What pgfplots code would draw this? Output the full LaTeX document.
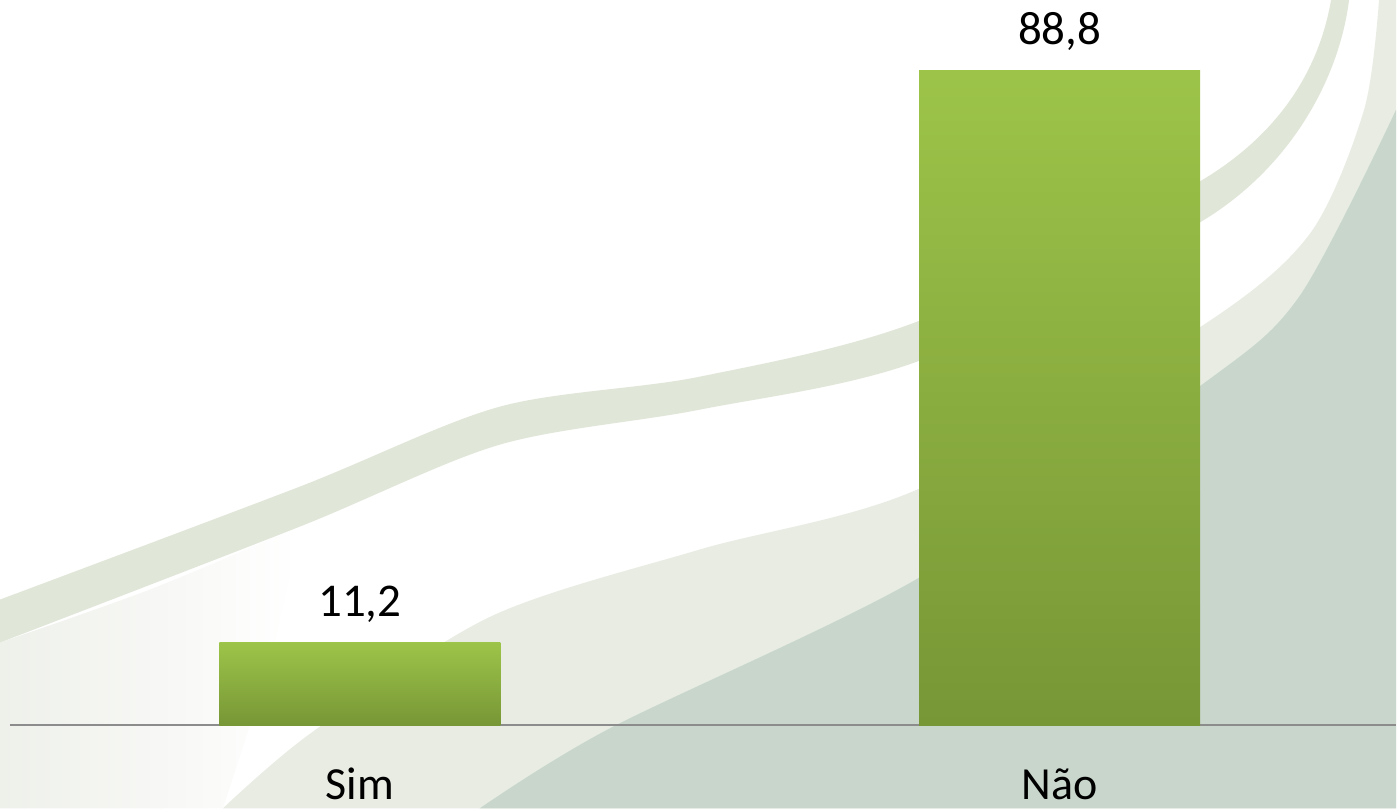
\documentclass[border=0pt]{standalone}
\usepackage{pgfplots}
\pgfplotsset{compat=1.18}
\usepackage{fontspec}
\setmainfont{Carlito}
\definecolor{bgdark}{HTML}{C9D6CC}
\definecolor{bgband}{HTML}{E8ECE3}
\definecolor{bgline}{HTML}{E0E6D8}
\definecolor{bgsoft}{HTML}{EEF0EA}
\definecolor{bartop}{HTML}{9DC449}
\definecolor{barbot}{HTML}{779636}
\definecolor{axisgray}{HTML}{8C8C8C}
\begin{document}
\begin{tikzpicture}
\begin{scope}[x=0.5pt,y=-0.5pt]
\fill[white] (0,0) rectangle (1397,809);
\useasboundingbox (0,0) rectangle (1397,809);
% soft light wash bottom-left
\shade[left color=bgsoft, right color=white] plot[smooth] coordinates {(0,643) (150,590) (300,527)} -- plot[smooth] coordinates {(300,527) (270,660) (223,809)} -- (0,809) -- cycle;
% wide light band
\fill[bgband] plot[smooth] coordinates {(223,809) (312,733) (491,617) (700,550) (920,489) (1200,328) (1310,235) (1365,110) (1380,0)} -- (1397,0) -- (1397,809) -- cycle;
% dark region
\fill[bgdark] plot[smooth] coordinates {(480,809) (610,729) (920,578) (1200,387) (1300,297) (1397,110)} -- (1397,809) -- cycle;
% thin band
\fill[bgline] plot[smooth] coordinates {(0,600) (300,487) (500,407) (700,377) (920,321) (1200,182)} .. controls (1280,135) and (1320,70) .. (1332,0) -- (1350,0) .. controls (1340,80) and (1290,170) .. (1200,223) -- plot[smooth] coordinates {(1200,223) (920,361) (700,410) (500,445) (300,527) (0,643)} -- cycle;
\end{scope}
\begin{axis}[
  at={(5pt,-363pt)}, anchor=south west,
  scale only axis, width=693.5pt, height=363pt,
  xmin=-0.5, xmax=1.4807, ymin=0, ymax=98.4,
  axis x line=bottom, axis y line=none,
  x axis line style={-, draw=axisgray, line width=1pt},
  xtick={0,1}, xticklabels={Sim, Não}, major tick length=0pt,
  ytick=\empty,
  xticklabel style={font=\fontsize{23}{28}\selectfont, anchor=base, yshift=-37pt, text depth=0pt},
  ybar, bar width=140.5pt, bar shift=0pt,
  nodes near coords, point meta=y,
  nodes near coords style={anchor=base, yshift=13pt, inner sep=0pt, text=black, font=\fontsize{23.5}{28}\selectfont},
  /pgf/number format/.cd, use comma, fixed, precision=1, fixed zerofill, assume math mode=true,
]
\addplot[draw=none, top color=bartop, bottom color=barbot] coordinates {(0,11.2)};
\addplot[draw=none, top color=bartop, bottom color=barbot] coordinates {(1,88.8)};
\end{axis}
\end{tikzpicture}
\end{document}
